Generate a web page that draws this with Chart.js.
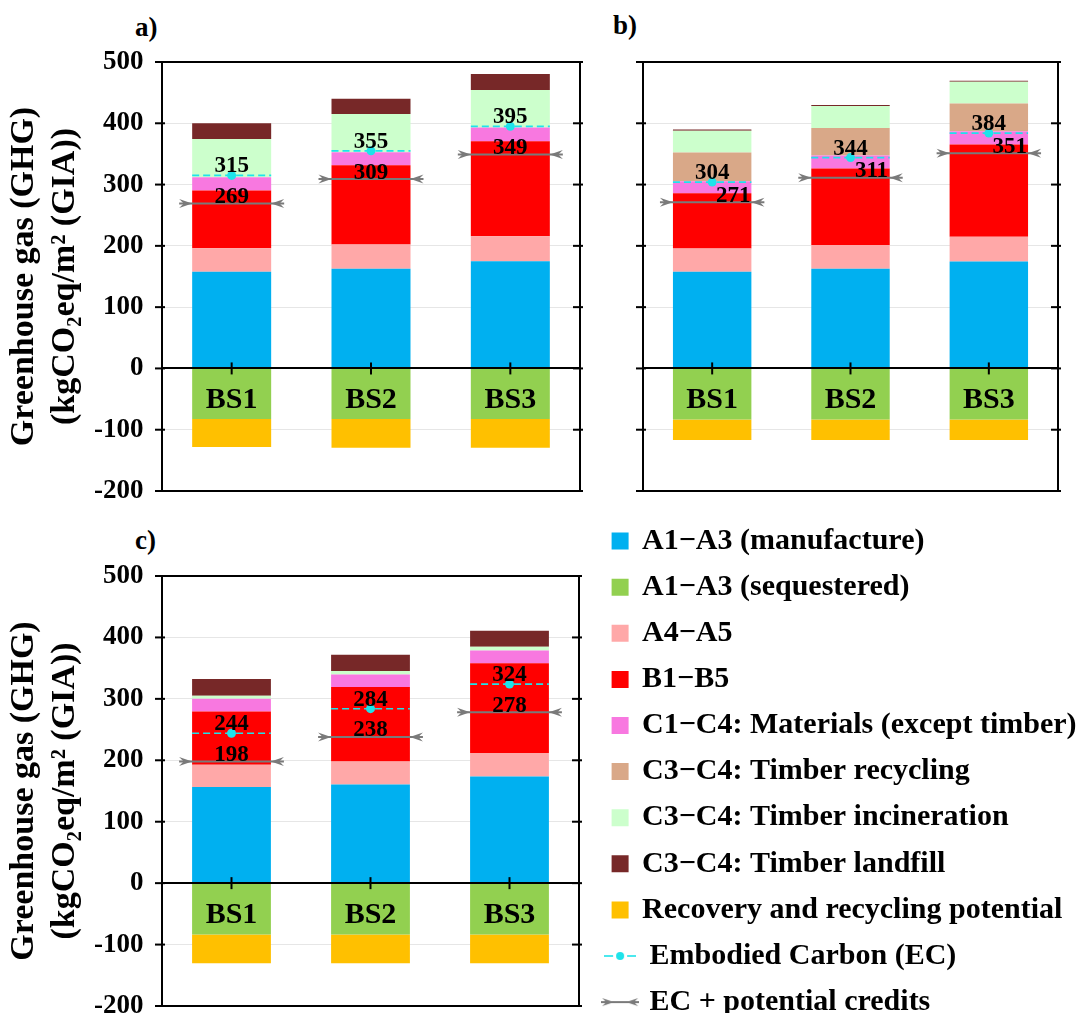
<!DOCTYPE html>
<html><head><meta charset="utf-8">
<script src="https://cdn.jsdelivr.net/npm/chart.js@4.4.1/dist/chart.umd.min.js"></script>
<style>
html,body{margin:0;padding:0;background:#fff;overflow:hidden}
#wrap{position:relative;width:1078px;height:1013px;overflow:hidden;background:#fff}
canvas{position:absolute}
.plab{position:absolute;font:bold 27px 'Liberation Serif','Times New Roman',serif;line-height:27px;color:#000}
</style></head><body>
<div id="wrap">
<div class="plab" style="left:135px;top:14px">a)</div>
<div class="plab" style="left:613px;top:12px">b)</div>
<div class="plab" style="left:135px;top:527px">c)</div>
<canvas id="ca" width="600" height="527" style="left:0;top:0"></canvas>
<canvas id="cb" width="488" height="527" style="left:590px;top:0"></canvas>
<canvas id="cc" width="600" height="527" style="left:0;top:515px"></canvas>
<canvas id="cl" width="2200" height="560" style="left:597px;top:510px"></canvas>
</div>
<script>
// ---------- data ----------
const categories = ['BS1', 'BS2', 'BS3'];
const seriesNames = [
  'A1\u2212A3 (manufacture)',
  'A1\u2212A3 (sequestered)',
  'A4\u2212A5',
  'B1\u2212B5',
  'C1\u2212C4: Materials (except timber)',
  'C3\u2212C4: Timber recycling',
  'C3\u2212C4: Timber incineration',
  'C3\u2212C4: Timber landfill',
  'Recovery and recycling potential'
];
const ecName = ' Embodied Carbon (EC)';
const creditName = ' EC + potential credits';
const yTickMin = -200, yTickMax = 500, yTickStep = 100;

// panel a
const aManufacture  = [157.6, 162.5, 175.0];
const aSequestered  = [-82.6, -82.6, -82.6];
const aA4A5         = [38.6, 39.7, 40.8];
const aB1B5         = [94.0, 129.3, 155.0];
const aC1C4         = [21.8, 21.2, 22.2];
const aRecycling    = [0, 0, 0];
const aIncineration = [62.5, 62.5, 61.3];
const aLandfill     = [25.5, 25.0, 26.1];
const aRecovery     = [-45.7, -46.7, -46.7];
const aEC           = [315, 355, 395];
const aECcredits    = [269, 309, 349];

// panel b
const bManufacture  = [157.6, 162.5, 174.5];
const bSequestered  = [-83.2, -83.2, -83.2];
const bA4A5         = [38.1, 39.1, 40.2];
const bB1B5         = [90.2, 124.5, 150.5];
const bC1C4         = [19.5, 21.2, 21.8];
const bRecycling    = [46.8, 45.1, 45.1];
const bIncineration = [35.8, 35.9, 35.8];
const bLandfill     = [1.7, 1.6, 1.7];
const bRecovery     = [-33.6, -33.6, -33.6];
const bEC           = [304, 344, 384];
const bECcredits    = [271, 311, 351];

// panel c
const cManufacture  = [156.4, 160.7, 173.7];
const cSequestered  = [-83.6, -83.6, -83.6];
const cA4A5         = [36.3, 37.5, 38.0];
const cB1B5         = [86.9, 121.0, 146.1];
const cC1C4         = [20.6, 20.6, 21.1];
const cRecycling    = [0, 0, 0];
const cIncineration = [4.9, 5.5, 6.0];
const cLandfill     = [27.1, 26.6, 26.1];
const cRecovery     = [-46.7, -46.7, -46.7];
const cEC           = [244, 284, 324];
const cECcredits    = [198, 238, 278];

// ---------- style ----------
const seriesColors = ['#00B0F0', '#92D050', '#FFA8A8', '#FF0000', '#F878E0', '#D9A888', '#CCFFCC', '#772828', '#FFC000'];
const ecColor = '#1EE3EA';
const creditColor = '#7A7A7A';
const FONT = "'Liberation Serif','Times New Roman',serif";
Chart.defaults.font.family = FONT;
Chart.defaults.color = '#000';

function seg(ctx, x1, y1, x2, y2) { ctx.beginPath(); ctx.moveTo(x1, y1); ctx.lineTo(x2, y2); ctx.stroke(); }
function arrow(ctx, tipX, y, dir, len, half) {
  const bx = tipX - dir * len;
  ctx.beginPath();
  ctx.moveTo(bx, y - half);
  ctx.lineTo(tipX, y);
  ctx.lineTo(bx, y + half);
  ctx.lineTo(bx + dir * len * 0.35, y);
  ctx.closePath();
  ctx.fill();
}

const markerPlugin = {
  id: 'markers',
  beforeDatasetDraw(chart, args) {
    const ds = chart.data.datasets[args.index];
    if (!ds.marker) return;
    const ctx = chart.ctx, ys = chart.scales.y;
    const barMeta = chart.getDatasetMeta(0);
    ctx.save();
    ds.data.forEach((v, i) => {
      const bar = barMeta.data[i];
      const cx = bar.x, hw = bar.width / 2, py = ys.getPixelForValue(v);
      if (ds.marker === 'ec') {
        ctx.strokeStyle = ecColor; ctx.lineWidth = 1.6; ctx.setLineDash([7, 4]);
        seg(ctx, cx - hw, py, cx + hw, py);
        ctx.setLineDash([]);
      } else {
        ctx.strokeStyle = creditColor; ctx.fillStyle = creditColor; ctx.lineWidth = 2;
        seg(ctx, cx - hw - 13, py, cx + hw + 13, py);
        arrow(ctx, cx - hw, py, 1, 13, 4.5);
        arrow(ctx, cx + hw, py, -1, 13, 4.5);
      }
    });
    ctx.restore();
  },
  afterDatasetsDraw(chart) {
    const ctx = chart.ctx, ys = chart.scales.y;
    const barMeta = chart.getDatasetMeta(0);
    const shift = chart.options.plugins.markers.creditShift || 0;
    ctx.save();
    ctx.font = 'bold 23px ' + FONT;
    ctx.fillStyle = '#000';
    ctx.textAlign = 'center';
    ctx.textBaseline = 'alphabetic';
    chart.data.datasets.forEach(ds => {
      if (!ds.marker) return;
      ds.data.forEach((v, i) => {
        const bar = barMeta.data[i];
        const py = ys.getPixelForValue(v);
        if (ds.marker === 'ec') ctx.fillText(String(v), bar.x, py - 3);
        else ctx.fillText(String(v), bar.x + shift, py - 0.5);
      });
    });
    ctx.restore();
  }
};

const framePlugin = {
  id: 'frame',
  afterDraw(chart) {
    const {ctx, chartArea: a} = chart;
    const ys = chart.scales.y, xs = chart.scales.x;
    ctx.save();
    ctx.strokeStyle = '#000'; ctx.lineWidth = 2;
    ctx.strokeRect(a.left, a.top, a.right - a.left, a.bottom - a.top);
    ys.ticks.forEach(t => {
      const py = ys.getPixelForValue(t.value);
      seg(ctx, a.left - 7, py, a.left + 3, py);
      seg(ctx, a.right - 7, py, a.right + 3, py);
    });
    const zero = ys.getPixelForValue(0);
    xs.ticks.forEach((t, i) => {
      const px = xs.getPixelForValue(i);
      seg(ctx, px, zero - 6, px, zero + 6);
    });
    ctx.restore();
  }
};

function makePanel(id, bars, ec, credits, opt) {
  const datasets = bars.map((vals, k) => ({
    type: 'bar', label: seriesNames[k], data: vals,
    backgroundColor: seriesColors[k], borderWidth: 0,
    barPercentage: 0.567, categoryPercentage: 1, order: 1, stack: 'bars'
  }));
  datasets.push({type: 'line', label: ecName, data: ec, showLine: false, pointRadius: 4.5,
    pointBackgroundColor: ecColor, pointBorderWidth: 0, order: 0, stack: 'ec', marker: 'ec'});
  datasets.push({type: 'line', label: creditName, data: credits, showLine: false, pointRadius: 0,
    order: 0, stack: 'credit', marker: 'credit'});
  return new Chart(document.getElementById(id), {
    data: {labels: categories, datasets},
    options: {
      responsive: false, animation: false, devicePixelRatio: 1,
      layout: {padding: opt.padding},
      plugins: {legend: {display: false}, tooltip: {enabled: false}, markers: {creditShift: opt.creditShift}},
      scales: {
        x: {
          stacked: true, position: {y: 0},
          afterFit(s) { s.height = 0; },
          grid: {display: false, drawTicks: false},
          border: {display: true, color: '#000', width: 2, z: 1},
          ticks: {padding: 14, color: '#000', z: 1, font: {size: 30, weight: 'bold'}}
        },
        y: {
          stacked: true, min: yTickMin, max: yTickMax,
          afterFit(s) { s.width = opt.yWidth; },
          grid: {color: '#e6e6e6', lineWidth: 1, drawTicks: false},
          border: {color: '#000', width: 2},
          ticks: {display: opt.showLabels, stepSize: yTickStep, padding: 18.5, color: '#000', font: {size: 27, weight: 'bold'}},
          title: {display: opt.showLabels, text: ['Greenhouse gas (GHG)', '(kgCO\u2082eq/m\u00B2 (GIA))'],
            color: '#000', font: {size: 34, weight: 'bold', lineHeight: 1.2}, padding: {top: 4, bottom: 0}}
        }
      }
    },
    plugins: [markerPlugin, framePlugin]
  });
}

makePanel('ca',
  [aManufacture, aSequestered, aA4A5, aB1B5, aC1C4, aRecycling, aIncineration, aLandfill, aRecovery],
  aEC, aECcredits,
  {padding: {top: 62, right: 20, bottom: 36, left: 0}, yWidth: 162, showLabels: true, creditShift: 0});
makePanel('cb',
  [bManufacture, bSequestered, bA4A5, bB1B5, bC1C4, bRecycling, bIncineration, bLandfill, bRecovery],
  bEC, bECcredits,
  {padding: {top: 62, right: 20, bottom: 36, left: 0}, yWidth: 53, showLabels: false, creditShift: 21});
makePanel('cc',
  [cManufacture, cSequestered, cA4A5, cB1B5, cC1C4, cRecycling, cIncineration, cLandfill, cRecovery],
  cEC, cECcredits,
  {padding: {top: 61, right: 21, bottom: 36, left: 0}, yWidth: 162, showLabels: true, creditShift: 0});

// ---------- legend ----------
function makeIcon(kind) {
  const c = document.createElement('canvas');
  c.width = kind === 'ec' ? 32 : 38; c.height = 12;
  const g = c.getContext('2d');
  if (kind === 'ec') {
    g.strokeStyle = ecColor; g.lineWidth = 1.6;
    seg(g, 0, 6, 9, 6); seg(g, 23, 6, 32, 6);
    g.fillStyle = ecColor; g.beginPath(); g.arc(16, 6, 4, 0, Math.PI * 2); g.fill();
  } else {
    g.strokeStyle = creditColor; g.fillStyle = creditColor; g.lineWidth = 2;
    seg(g, 0, 6, 38, 6);
    arrow(g, 13, 6, 1, 12, 4);
    arrow(g, 25, 6, -1, 12, 4);
  }
  return c;
}
const legendItems = seriesNames.map((n, k) => ({
  text: n, fillStyle: seriesColors[k], strokeStyle: seriesColors[k], lineWidth: 0,
  pointStyle: 'rect', hidden: false, datasetIndex: k
}));
legendItems.push({text: ecName, fillStyle: ecColor, strokeStyle: ecColor, lineWidth: 0, pointStyle: makeIcon('ec'), hidden: false, datasetIndex: 9});
legendItems.push({text: creditName, fillStyle: creditColor, strokeStyle: creditColor, lineWidth: 0, pointStyle: makeIcon('credit'), hidden: false, datasetIndex: 10});

new Chart(document.getElementById('cl'), {
  type: 'bar',
  data: {labels: [], datasets: []},
  options: {
    responsive: false, animation: false, devicePixelRatio: 1,
    layout: {padding: 0},
    scales: {x: {display: false}, y: {display: false}},
    plugins: {
      tooltip: {enabled: false},
      legend: {
        display: true, position: 'left', align: 'start',
        labels: {
          usePointStyle: true, boxWidth: 14, boxHeight: 17, padding: 16.1,
          color: '#000', font: {size: 30, weight: 'bold'},
          generateLabels: () => legendItems
        }
      }
    }
  }
});
</script>
</body></html>
